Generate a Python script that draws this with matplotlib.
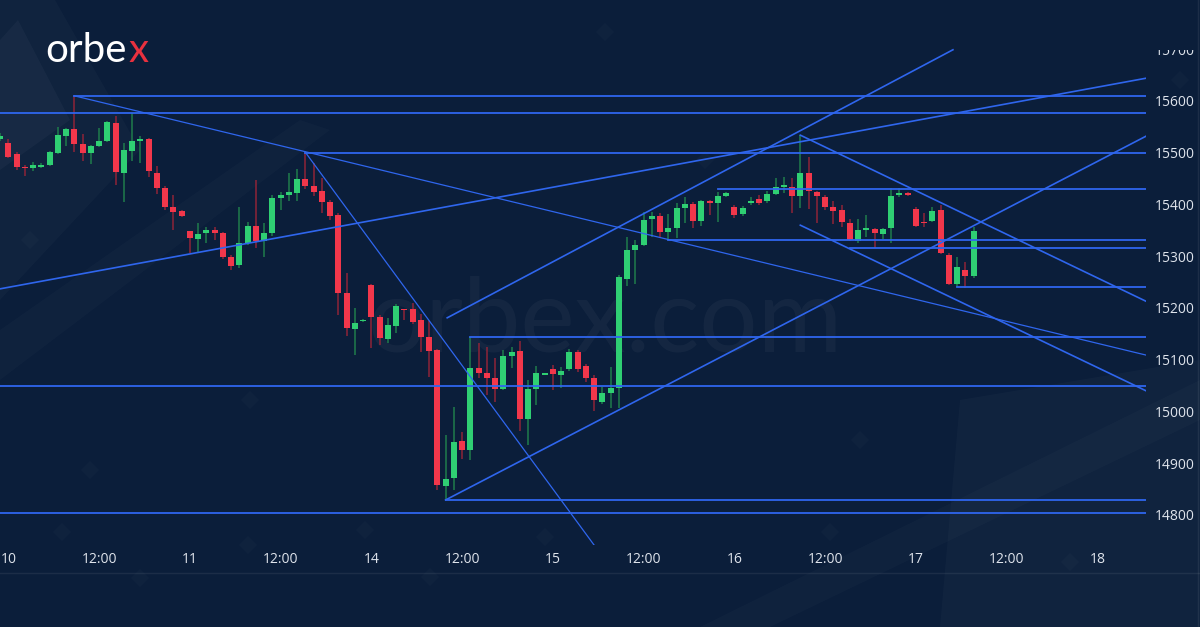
import numpy as np
import matplotlib
matplotlib.use("Agg")
import matplotlib.pyplot as plt
from matplotlib.patches import Polygon
from matplotlib.transforms import Bbox, TransformedBbox

# hourly candles, bar 0 = first full bar of the 10th (bar -1 is cut at the left edge)
opens = [15527, 15519, 15498, 15472, 15470, 15472, 15476, 15499, 15532, 15546,
         15517, 15500, 15513, 15523, 15557, 15461, 15503, 15523, 15527, 15461,
         15432, 15395, 15387, 15349, 15333, 15345, 15351, 15345, 15298, 15283,
         15326, 15358, 15330, 15345, 15413, 15418, 15422, 15449, 15436, 15426,
         15405, 15380, 15229, 15159, 15174, 15244, 15183, 15140, 15165, 15198,
         15198, 15177, 15144, 15119, 14856, 14872, 14943, 14926, 15084, 15074,
         15065, 15044, 15107, 15117, 14986, 15044, 15071, 15082, 15071, 15082,
         15115, 15088, 15065, 15018, 15036, 15045, 15256, 15312, 15322, 15372,
         15378, 15347, 15355, 15393, 15401, 15368, 15407, 15403, 15416, 15395,
         15382, 15403, 15411, 15407, 15420, 15434, 15434, 15416, 15461, 15424,
         15414, 15395, 15389, 15364, 15329, 15351, 15353, 15343, 15355, 15418,
         15422, 15391, 15366, 15368, 15389, 15302, 15246, 15273, 15262]
highs = [15538, 15527, 15501, 15476, 15482, 15480, 15503, 15550, 15548, 15610,
         15536, 15515, 15548, 15562, 15571, 15519, 15577, 15532, 15529, 15474,
         15436, 15418, 15389, 15349, 15364, 15356, 15356, 15347, 15302, 15395,
         15366, 15447, 15364, 15418, 15424, 15461, 15469, 15501, 15480, 15451,
         15409, 15384, 15268, 15200, 15178, 15246, 15186, 15180, 15208, 15199,
         15210, 15188, 15175, 15121, 14955, 15009, 14960, 15144, 15132, 15125,
         15103, 15119, 15125, 15136, 15061, 15088, 15074, 15090, 15086, 15121,
         15119, 15092, 15071, 15047, 15086, 15264, 15337, 15331, 15385, 15385,
         15384, 15382, 15403, 15414, 15405, 15409, 15409, 15424, 15424, 15399,
         15397, 15414, 15418, 15426, 15451, 15453, 15451, 15534, 15492, 15426,
         15418, 15407, 15399, 15372, 15372, 15380, 15355, 15355, 15432, 15432,
         15424, 15395, 15384, 15395, 15399, 15306, 15298, 15289, 15356]
lows = [15523, 15490, 15467, 15455, 15465, 15470, 15474, 15497, 15513, 15501,
        15484, 15478, 15511, 15521, 15438, 15405, 15484, 15480, 15453, 15420,
        15389, 15351, 15376, 15306, 15306, 15326, 15331, 15295, 15273, 15277,
        15322, 15316, 15299, 15339, 15389, 15407, 15407, 15430, 15416, 15384,
        15370, 15186, 15146, 15109, 15172, 15123, 15128, 15132, 15151, 15177,
        15169, 15115, 15067, 14848, 14829, 14848, 14908, 14906, 15065, 15032,
        15018, 15042, 15084, 14962, 14935, 15013, 15070, 15041, 15045, 15078,
        15076, 15057, 15001, 15015, 15007, 15007, 15242, 15246, 15320, 15337,
        15335, 15331, 15335, 15364, 15355, 15358, 15380, 15366, 15414, 15374,
        15378, 15399, 15399, 15403, 15418, 15422, 15384, 15393, 15391, 15364,
        15389, 15362, 15356, 15329, 15326, 15337, 15316, 15333, 15326, 15414,
        15416, 15356, 15356, 15366, 15304, 15244, 15240, 15239, 15258]
closes = [15532, 15492, 15473, 15470, 15476, 15476, 15501, 15534, 15546, 15517,
          15500, 15513, 15523, 15559, 15463, 15505, 15523, 15525, 15465, 15432,
          15395, 15385, 15378, 15335, 15343, 15351, 15345, 15298, 15281, 15326,
          15358, 15330, 15345, 15413, 15418, 15424, 15449, 15436, 15424, 15405,
          15378, 15229, 15161, 15171, 15176, 15183, 15142, 15167, 15204, 15196,
          15173, 15144, 15117, 14858, 14870, 14941, 14926, 15084, 15074, 15065,
          15044, 15107, 15115, 14986, 15044, 15074, 15073, 15073, 15078, 15115,
          15082, 15065, 15022, 15036, 15045, 15260, 15312, 15322, 15370, 15378,
          15347, 15355, 15393, 15401, 15368, 15407, 15403, 15416, 15422, 15380,
          15393, 15407, 15403, 15420, 15434, 15436, 15416, 15461, 15426, 15416,
          15395, 15387, 15366, 15331, 15351, 15353, 15345, 15353, 15416, 15422,
          15418, 15358, 15364, 15387, 15306, 15246, 15279, 15262, 15349]

tick_bars = [0, 11, 22, 33, 44, 55, 66, 77, 88, 99, 110, 121, 132]
tick_labels = ["10", "12:00", "11", "12:00", "14", "12:00", "15", "12:00",
               "16", "12:00", "17", "12:00", "18"]
price_ticks = [14800, 14900, 15000, 15100, 15200, 15300, 15400, 15500, 15600, 15700]

# drawn levels (price, first bar; None = from left edge)
level_prices = [15610, 15577, 15500, 15429, 15331, 15316, 15240, 15144, 15049, 14829, 14804]
level_starts = [8, None, 36, 86, 80, 102, 115, 56, None, 53, None]

# drawn trend lines: (bar0, price0, bar1, price1)
trend_lines = [
    (8, 15610, 137.9, 15109),
    (36, 15501, 71.0, 14742),
    (-1.0, 15237, 137.9, 15644),
    (53.2, 15181, 114.5, 15699),
    (53, 14829, 137.9, 15532),
    (96, 15534, 137.9, 15213),
    (96, 15360, 137.9, 15040),
]
thin_lines = [0, 1]

BG = "#0b1e3a"
UP, DOWN = "#2fcf73", "#f2374b"
UP_WICK, DOWN_WICK = "#1f7d4c", "#8e2438"
LINE = "#2f66ee"
TXT = "#dfe4ec"
FONT = ["Open Sans", "DejaVu Sans"]

fig = plt.figure(figsize=(12, 6.27), dpi=100)
fig.patch.set_facecolor(BG)

# background layer in pixel coordinates
bg = fig.add_axes([0, 0, 1, 1])
bg.set_xlim(0, 1200)
bg.set_ylim(627, 0)
bg.axis("off")
bg.set_zorder(0)
for pts, a in [
    ([(0, 0), (55, 0), (140, 150), (0, 300)], 0.025),
    ([(0, 40), (18, 20), (70, 120), (0, 170)], 0.03),
    ([(0, 330), (0, 380), (330, 130), (300, 120)], 0.018),
    ([(940, 627), (1200, 627), (1200, 360), (960, 400)], 0.025),
    ([(700, 627), (770, 627), (1200, 420), (1200, 380)], 0.02),
]:
    bg.add_patch(Polygon(pts, closed=True, facecolor="white", alpha=a, lw=0))
for cx, cy in [(62, 532), (140, 578), (248, 545), (365, 530), (430, 577),
               (545, 537), (605, 32), (830, 532), (1070, 562), (1180, 80),
               (705, 160), (90, 470), (250, 400), (860, 440), (30, 240)]:
    s = 9
    bg.add_patch(Polygon([(cx, cy - s), (cx + s, cy), (cx, cy + s), (cx - s, cy)],
                         facecolor="white", alpha=0.018, lw=0))
bg.axhline(573, color="white", alpha=0.07, lw=1)
bg.axvline(1198, color="white", alpha=0.07, lw=1)

# watermark
bg.text(605, 352, "orbex.com", fontsize=74, color="white", alpha=0.04,
        ha="center", va="baseline", family=["Lato", "DejaVu Sans"])

# logo
t1 = bg.text(45, 62, "orbe", fontsize=29, color="white", va="baseline",
             family=["Lato", "DejaVu Sans"])
fig.canvas.draw()
ext = t1.get_window_extent()
bg.text(ext.x1 + 2, 62, "x", fontsize=29, color="#e8313f", va="baseline",
        family=["Lato", "DejaVu Sans"])

# chart
ax = fig.add_axes([0, 82 / 627, 1146 / 1200, 497 / 627])
ax.set_zorder(1)
ax.set_facecolor("none")
ax.set_xlim(-1.006, 137.9)
ax.set_ylim(14742, 15702.4)

o = np.array(opens)
h = np.array(highs)
l = np.array(lows)
c = np.array(closes)
x = np.arange(len(o)) - 1
up = c >= o

ax.vlines(x, l, h, colors=np.where(up, UP_WICK, DOWN_WICK), lw=1.1, zorder=2)
body_lo = np.minimum(o, c)
body_h = np.maximum(np.abs(c - o), 3)
ax.bar(x, body_h, bottom=body_lo, width=0.72, color=np.where(up, UP, DOWN),
       lw=0, zorder=3)

x_left, x_right = ax.get_xlim()
for p, s in zip(level_prices, level_starts):
    ax.plot([x_left if s is None else s, x_right], [p, p], color=LINE, lw=1.3, zorder=4)
for k, (x0, p0, x1, p1) in enumerate(trend_lines):
    ax.plot([x0, x1], [p0, p1], color=LINE, lw=0.9 if k in thin_lines else 1.2, zorder=4)

for s in ax.spines.values():
    s.set_visible(False)
ax.set_xticks(tick_bars, tick_labels)
ax.yaxis.tick_right()
ax.set_yticks(price_ticks, [str(v) for v in price_ticks])
ax.tick_params(axis="x", length=0, pad=5, labelsize=10, labelcolor=TXT)
ax.tick_params(axis="y", length=0, pad=6, labelsize=10, labelcolor=TXT)
for lab in ax.get_xticklabels() + ax.get_yticklabels():
    lab.set_family(FONT)
clip = TransformedBbox(Bbox.from_extents(0, 0, 1, 577 / 627), fig.transFigure)
for tk in ax.yaxis.get_major_ticks():
    tk.label2.set_clip_box(clip)
    tk.label2.set_clip_on(True)

fig.savefig("out.png", dpi=100, facecolor=BG)
